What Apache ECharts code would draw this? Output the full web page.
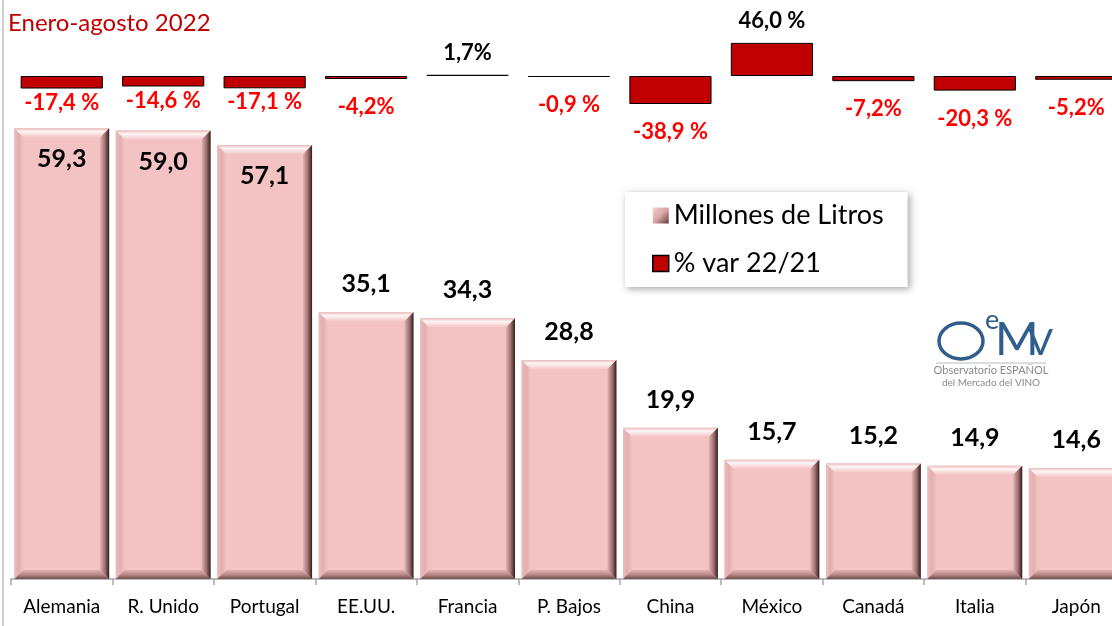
<!DOCTYPE html>
<html>
<head>
<meta charset="utf-8">
<script src="https://cdn.jsdelivr.net/npm/echarts@6/dist/echarts.min.js"></script>
<style>
    html, body { margin: 0; padding: 0; background: #fff; }
    #chart { width: 1112px; height: 626px; }
</style>
</head>
<body>
<div id="chart"></div>
<script>
// datos
var categories = ['Alemania', 'R. Unido', 'Portugal', 'EE.UU.', 'Francia', 'P. Bajos', 'China', 'México', 'Canadá', 'Italia', 'Japón'];
var volumes = [59.3, 59.0, 57.1, 35.1, 34.3, 28.8, 19.9, 15.7, 15.2, 14.9, 14.6];
var pctVar = [-17.4, -14.6, -17.1, -4.2, 1.7, -0.9, -38.9, 46.0, -7.2, -20.3, -5.2];
var pctLabels = ['-17,4 %', '-14,6 %', '-17,1 %', '-4,2%', '1,7%', '-0,9 %', '-38,9 %', '46,0 %', '-7,2%', '-20,3 %', '-5,2%'];

var FONT = 'Lato, "Open Sans", sans-serif';
var chart = echarts.init(document.getElementById('chart'));

function grad(x2, y2, stops) {
    return {
        type: 'linear', x: 0, y: 0, x2: x2, y2: y2,
        colorStops: stops.map(function (s) { return {offset: s[0], color: s[1]}; })
    };
}

//barra con bisel (estilo excel)
function renderBevel(params, api) {
    var i = api.value(0), v = api.value(1);
    var top = api.coord([i, v]);
    var base = api.coord([i, 0]);
    var w = api.size([1, 0])[0] * 0.935;
    var x0 = top[0] - w / 2, x1 = top[0] + w / 2, y0 = top[1], y1 = base[1];
    var b = 9;
    var txt = v.toFixed(1).replace('.', ',');
    var inside = v > 50;
    return {
        type: 'group',
        children: [
            {type: 'rect', shape: {x: x0, y: y0, width: w, height: y1 - y0}, style: {fill: '#F3C2C2'}},
            {type: 'polygon', shape: {points: [[x0, y0], [x0 + b, y0 + b], [x0 + b, y1 - b], [x0, y1]]},
                style: {fill: grad(1, 0, [[0, '#EDBCBC'], [0.5, '#E2AFAF'], [1, '#F1C2C2']])}},
            {type: 'polygon', shape: {points: [[x0, y1], [x1, y1], [x1 - b, y1 - b], [x0 + b, y1 - b]]},
                style: {fill: grad(0, 1, [[0, '#E3B3B3'], [0.55, '#B58585'], [1, '#6E4C4C']])}},
            {type: 'polygon', shape: {points: [[x0, y0], [x1, y0], [x1 - b, y0 + b], [x0 + b, y0 + b]]},
                style: {fill: grad(0, 1, [[0, '#E9BABA'], [0.35, '#FFF6F6'], [1, '#F4C6C6']])}},
            {type: 'polygon', shape: {points: [[x1, y0], [x1, y1], [x1 - b, y1 - b], [x1 - b, y0 + b]]},
                style: {fill: grad(1, 0, [[0, '#E3B1B1'], [0.55, '#9C6E6E'], [1, '#2E1C1C']])}},
            {type: 'text', x: top[0], y: inside ? y0 + 31 : y0 - 28,
                style: {text: txt, fill: '#000', font: 'bold 25px ' + FONT, align: 'center', verticalAlign: 'middle'}}
        ]
    };
}

// etiquetas del % var
function renderPctLabel(params, api) {
    var i = api.value(0), v = api.value(1);
    var end = api.coord([i, v]);
    var neg = v < 0;
    var d = neg ? (i < 3 ? 3 : 17) : 11;
    var y = neg ? Math.max(end[1], api.coord([i, 0])[1] + 1) + d + 11 : end[1] - d - 11;
    return {
        type: 'text', x: end[0], y: y,
        style: {
            text: pctLabels[i], fill: neg ? '#FF0000' : '#000',
            font: 'bold 22px ' + FONT, align: 'center', verticalAlign: 'middle'
        }
    };
}

var option = {
    animation: false,
    backgroundColor: '#fff',
    textStyle: {fontFamily: FONT},
    grid: [
        {left: 11, top: 123, width: 1116, height: 456, outerBoundsMode: 'none'},
        {left: 11, top: 40, width: 1116, height: 72, outerBoundsMode: 'none'}
    ],
    xAxis: [{
        type: 'category', gridIndex: 0, data: categories,
        axisLine: {lineStyle: {color: '#A6A6A6', width: 1.5}},
        axisTick: {show: true, length: 6, interval: 0, lineStyle: {color: '#A6A6A6', width: 1.5}},
        axisLabel: {color: '#000', fontSize: 19, fontFamily: FONT, margin: 18, interval: 0}
    }, {
        type: 'category', gridIndex: 1, data: categories, show: false
    }],
    yAxis: [
        {type: 'value', gridIndex: 0, min: 0, max: 60, show: false},
        {type: 'value', gridIndex: 1, min: -50, max: 50, show: false}
    ],
    legend: {
        orient: 'vertical', left: 625, top: 192,
        padding: [10, 24, 10, 27], itemGap: 21,
        itemWidth: 16, itemHeight: 16, itemTextGap: 8,
        backgroundColor: '#fff',
        shadowBlur: 7, shadowColor: 'rgba(0,0,0,0.35)', shadowOffsetX: 2, shadowOffsetY: 2,
        textStyle: {fontSize: 27, color: '#000', fontFamily: FONT},
        data: [
            {name: 'Millones de Litros', icon: 'rect',
                itemStyle: {color: grad(1, 1, [[0, '#F6D0D0'], [0.5, '#D9A5A5'], [1, '#5C3C3C']]), borderWidth: 0}},
            {name: '% var 22/21', icon: 'rect',
                itemStyle: {color: '#C00000', borderColor: '#000', borderWidth: 1.5}}
        ]
    },
    graphic: [
        {type: 'line', shape: {x1: 3, y1: 0, x2: 3, y2: 626}, style: {stroke: '#BFBFBF', lineWidth: 1.5}},
        {type: 'text', left: 8, top: 11,
            style: {text: 'Enero-agosto 2022', fill: '#C00000', font: '24px ' + FONT}},
        // logo OeMv
        {type: 'ellipse', shape: {cx: 961, cy: 341, rx: 22, ry: 18}, style: {fill: 'none', stroke: '#2F5D8C', lineWidth: 3.5}},
        {type: 'text', x: 985, y: 307, style: {text: 'e', fill: '#2F5D8C', font: '27px ' + FONT}},
        {type: 'text', x: 995, y: 316, style: {text: 'M', fill: '#2F5D8C', font: '47px ' + FONT}},
        {type: 'text', x: 1028, y: 325, style: {text: 'V', fill: '#2F5D8C', font: '37px ' + FONT}},
        {type: 'line', shape: {x1: 936, y1: 363, x2: 1046, y2: 363}, style: {stroke: '#BBBBBB', lineWidth: 1}},
        {type: 'text', x: 991, y: 365,
            style: {text: 'Observatorio ESPAÑOL', fill: '#8A8A8A', font: '11px ' + FONT, align: 'center'}},
        {type: 'text', x: 991, y: 378,
            style: {text: 'del Mercado del VINO', fill: '#8A8A8A', font: '10px ' + FONT, align: 'center'}}
    ],
    series: [{
        name: 'Millones de Litros',
        type: 'custom',
        xAxisIndex: 0, yAxisIndex: 0,
        renderItem: renderBevel,
        encode: {x: 0, y: 1},
        data: volumes.map(function (v, i) { return [i, v]; })
    }, {
        name: '% var 22/21',
        type: 'bar',
        xAxisIndex: 1, yAxisIndex: 1,
        barWidth: '81%',
        barMinHeight: 1,
        itemStyle: {color: '#C00000', borderColor: '#000', borderWidth: 1},
        data: pctVar
    }, {
        name: 'etiquetas',
        type: 'custom',
        xAxisIndex: 1, yAxisIndex: 1,
        renderItem: renderPctLabel,
        encode: {x: 0, y: 1},
        data: pctVar.map(function (v, i) { return [i, v]; })
    }]
};
chart.setOption(option);
</script>
</body>
</html>
